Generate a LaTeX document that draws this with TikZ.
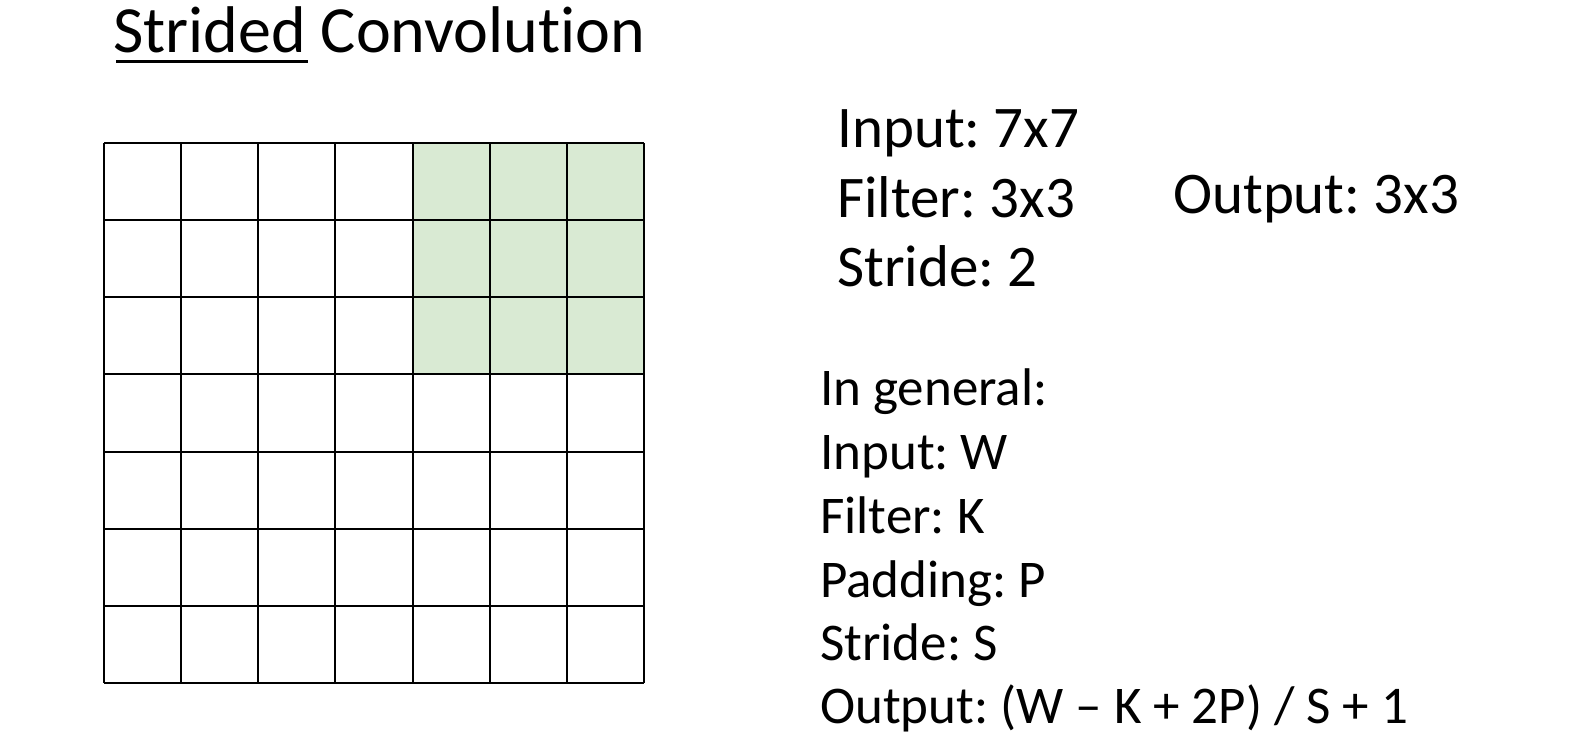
\documentclass[tikz,border=0pt]{standalone}
\usepackage{fontspec}
\setmainfont{Carlito}[Ligatures=NoCommon]
\definecolor{cellgreen}{RGB}{217,234,211}
\begin{document}
\frenchspacing
\begin{tikzpicture}[x=1pt,y=-1pt,
  title/.style={inner sep=0pt,anchor=base west,font=\fontsize{66}{66}\selectfont},
  big/.style={inner sep=0pt,anchor=base west,font=\fontsize{59}{59}\selectfont},
  gen/.style={inner sep=0pt,anchor=base west,font=\fontsize{53}{53}\selectfont},
  gridline/.style={line width=1.9pt,black}]
\useasboundingbox (0,0) rectangle (1591,747);
\fill[white] (0,0) rectangle (1591,747);
% title
\node[title] (ttl) at (113,52.5) {\frenchspacing Strided Convolution};
\draw[line width=3.5pt] (116,61.5) -- (308,61.5);
% grid
\def\gx{104}\def\gy{143}\def\cs{77.14}
\fill[cellgreen] (\gx+4*\cs,\gy) rectangle (\gx+7*\cs,\gy+3*\cs);
\foreach \i in {0,...,7}{
  \draw[gridline] (\gx+\i*\cs,\gy) -- (\gx+\i*\cs,\gy+7*\cs);
  \draw[gridline] (\gx,\gy+\i*\cs) -- (\gx+7*\cs,\gy+\i*\cs);
}
% right texts
\node[big] (in) at (837,147.3) {\frenchspacing Input: 7x7};
\node[big] (fi) at (837,217) {\frenchspacing Filter: 3x3};
\node[big] (st) at (837,286.7) {\frenchspacing Stride: 2};
\node[big] (out) at (1173,213.3) {\frenchspacing Output: 3x3};
\node[gen] (g1) at (820,405.7) {\frenchspacing In general:};
\node[gen] (g2) at (820,469.5) {\frenchspacing Input: W};
\node[gen] (g3) at (820,533.5) {\frenchspacing Filter: K};
\node[gen] (g4) at (820,597.3) {\frenchspacing Padding: P};
\node[gen] (g5) at (820,660.5) {\frenchspacing Stride: S};
\node[gen] (g6) at (820,723.5) {\frenchspacing Output: (W – K + 2P) / S + 1};
\end{tikzpicture}
\end{document}
